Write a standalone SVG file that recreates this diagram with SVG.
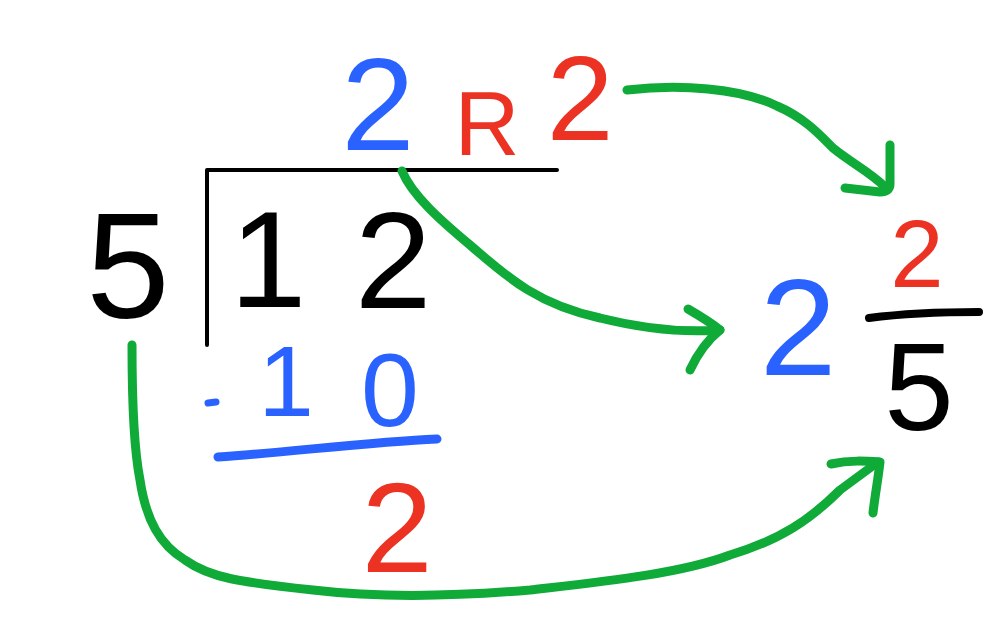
<svg xmlns="http://www.w3.org/2000/svg" width="1006" height="630" viewBox="0 0 1006 630">
<style>
text{font-family:"Liberation Sans","DejaVu Sans",sans-serif;text-anchor:middle}
.k{fill:#000}.b{fill:#2962ff}.r{fill:#ec3323}
.g{fill:none;stroke:#10aa38;stroke-width:9;stroke-linecap:round;stroke-linejoin:round}
.ln{fill:none;stroke-linecap:round;stroke-linejoin:round}
</style>
<rect width="1006" height="630" fill="#fff"/>
<g id="division">
<path class="ln" d="M207,345 V170 H557" stroke="#000" stroke-width="4"/>
<text class="k" x="128" y="318" font-size="150">5</text>
<text class="k" x="268" y="307" font-size="138">1</text>
<text class="k" x="393" y="308" font-size="138">2</text>
</g>
<g id="quotient">
<text class="b" x="378" y="150" font-size="132">2</text>
<text class="r" x="487" y="155" font-size="90">R</text>
<text class="r" x="580" y="140" font-size="120">2</text>
</g>
<g id="subtraction">
<path class="ln" d="M208,403 L216,402" stroke="#2962ff" stroke-width="7"/>
<text class="b" x="286" y="416" font-size="100">1</text>
<text class="b" x="390" y="426" font-size="104">0</text>
<path class="ln" d="M218,457 C290,452 370,442 437,439" stroke="#2962ff" stroke-width="9"/>
<text class="r" x="397" y="572" font-size="128">2</text>
</g>
<g id="mixed-number">
<text class="b" x="798" y="375" font-size="138">2</text>
<text class="r" x="917" y="287" font-size="96">2</text>
<path class="ln" d="M869,318 C900,314 945,312 979,312" stroke="#000" stroke-width="8"/>
<text class="k" x="919" y="430" font-size="125">5</text>
</g>
<g id="connectors">
<path class="g" d="M402,171 C412,195 440,220 470,245 C510,280 540,305 600,318 C640,328 680,333 720,330"/>
<path class="g" d="M688,309 C700,316 710,322 720,330 C705,342 697,355 690,370"/>
<path class="g" d="M627,90 C680,84 740,88 777,106 C805,118 820,135 833,148 C850,162 870,172 884,186"/>
<path class="g" d="M890,145 V184 Q890,192 880,192 L845,188"/>
<path class="g" d="M132,345 C132,400 134,450 140,480 C146,520 160,545 185,560 C210,578 240,582 313,590 C380,598 460,596 530,590 C600,582 680,574 730,555 C780,540 810,520 840,490 L878,462"/>
<path class="g" d="M831,464 C850,460 865,461 880,462 C878,480 875,495 873,513"/>
</g>
</svg>
